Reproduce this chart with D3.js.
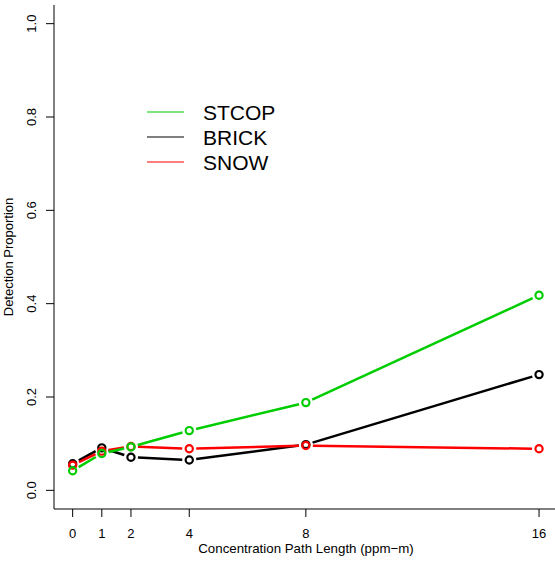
<!DOCTYPE html>
<html><head><meta charset="utf-8">
<script src="https://cdn.jsdelivr.net/npm/d3@7"></script>
<style>body{margin:0;background:#fff}svg{display:block}text{font-family:"Liberation Sans",Arial,sans-serif;fill:#000}</style>
</head><body><svg id="c" width="555" height="565"></svg>
<script>
const xValues = [0, 1, 2, 4, 8, 16];
const xTicks = [0, 1, 2, 4, 8, 16];
const yTicks = [0, 0.2, 0.4, 0.6, 0.8, 1.0];
const seriesNames = ["STCOP", "BRICK", "SNOW"];
const seriesColors = ["#00CD00", "#000000", "#FF0000"];
const stcop = [0.042, 0.079, 0.093, 0.128, 0.188, 0.418];
const brick = [0.057, 0.091, 0.071, 0.065, 0.098, 0.248];
const snow  = [0.054, 0.084, 0.094, 0.089, 0.096, 0.089];
const drawOrder = [1, 2, 0];
const allSeries = [stcop, brick, snow];

const svg = d3.select("#c");
const x = d3.scaleLinear().domain([-0.64, 16.64]).range([54, 557.7]);
const y = d3.scaleLinear().domain([-0.04, 1.04]).range([509, 5]);

svg.append("path").attr("d", `M54,5V509H555`).attr("fill","none").attr("stroke","#000").attr("stroke-width",1);

const ya = svg.append("g");
yTicks.forEach(t => {
  ya.append("line").attr("x1",46).attr("x2",54).attr("y1",y(t)).attr("y2",y(t)).attr("stroke","#000");
  ya.append("text").attr("transform",`translate(36,${y(t)}) rotate(-90)`).attr("text-anchor","middle")
    .attr("font-size",13).text(d3.format(".1f")(t));
});
const xa = svg.append("g");
xTicks.forEach(t => {
  xa.append("line").attr("x1",x(t)).attr("x2",x(t)).attr("y1",509).attr("y2",517).attr("stroke","#000");
  xa.append("text").attr("x",x(t)).attr("y",538).attr("text-anchor","middle").attr("font-size",13).text(t);
});
svg.append("text").attr("x",306).attr("y",553).attr("text-anchor","middle").attr("font-size",13.3)
  .text("Concentration Path Length (ppm\u2212m)");
svg.append("text").attr("transform","translate(12.5,257) rotate(-90)").attr("text-anchor","middle").attr("font-size",13)
  .text("Detection Proportion");

const gap = 7;
drawOrder.forEach(si => {
  const vals = allSeries[si];
  const g = svg.append("g");
  const pts = xValues.map((xv,i)=>[x(xv), y(vals[i])]);
  for (let i=0;i<pts.length-1;i++){
    const [x1,y1]=pts[i],[x2,y2]=pts[i+1];
    const dx=x2-x1, dy=y2-y1, L=Math.hypot(dx,dy);
    if (L<=2*gap) continue;
    const ux=dx/L, uy=dy/L;
    g.append("line").attr("x1",x1+ux*gap).attr("y1",y1+uy*gap).attr("x2",x2-ux*gap).attr("y2",y2-uy*gap)
      .attr("stroke",seriesColors[si]).attr("stroke-width",2.5);
  }
  pts.forEach(p=>{
    g.append("circle").attr("cx",p[0]).attr("cy",p[1]).attr("r",3.6).attr("fill","none")
      .attr("stroke",seriesColors[si]).attr("stroke-width",2.2);
  });
});

seriesNames.forEach((n,i)=>{
  const ly = 112 + i*25;
  svg.append("line").attr("x1",147).attr("x2",184).attr("y1",ly).attr("y2",ly).attr("stroke",seriesColors[i]).attr("stroke-width",1.2);
  svg.append("text").attr("x",203).attr("y",ly+7.5).attr("font-size",21).text(n);
});
</script></body></html>
